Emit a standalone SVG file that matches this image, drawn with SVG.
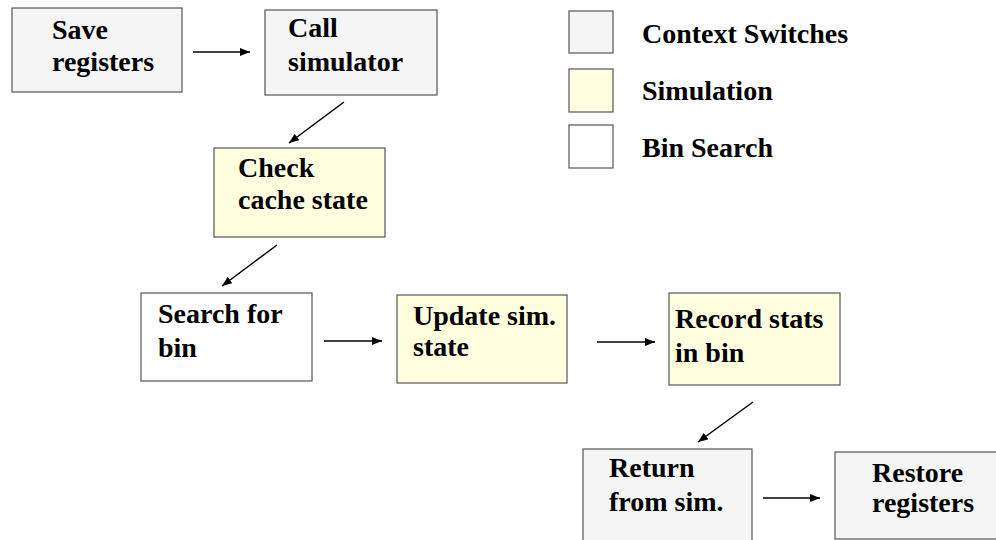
<svg xmlns="http://www.w3.org/2000/svg" width="996" height="540" viewBox="0 0 996 540">
  <style>
    .box { stroke: #555555; stroke-width: 1.2; }
    .ctx { fill: #F5F5F5; }
    .sim { fill: #FFFFE0; }
    .bin { fill: #FFFFFF; }
    text { font-family: "Times New Roman", Times, "Liberation Serif", Tinos, "DejaVu Serif", "Noto Serif", FreeSerif, serif; font-weight: 700; font-size: 28px; fill: #000000; }
    .edge { stroke: #000000; stroke-width: 1.5; fill: none; marker-end: url(#head); }
  </style>
  <defs>
    <marker id="head" viewBox="0 0 10 8" refX="10" refY="4" markerWidth="10" markerHeight="8" markerUnits="userSpaceOnUse" orient="auto">
      <path d="M0,0 L10,4 L0,8 z" fill="#000000"/>
    </marker>
  </defs>
  <rect width="996" height="540" fill="#FFFFFF"/>

  <!-- legend -->
  <g id="legend">
    <rect class="box ctx" x="569" y="11" width="44" height="42"/>
    <text x="642" y="43">Context Switches</text>
    <rect class="box sim" x="569" y="69" width="44" height="43"/>
    <text x="642" y="100">Simulation</text>
    <rect class="box bin" x="569" y="125" width="44" height="43"/>
    <text x="642" y="157">Bin Search</text>
  </g>

  <!-- flow steps -->
  <g id="save-registers">
    <rect class="box ctx" x="12" y="8" width="170" height="84"/>
    <text x="52" y="39">Save</text>
    <text x="52" y="71">registers</text>
  </g>
  <g id="call-simulator">
    <rect class="box ctx" x="265" y="10" width="172" height="85"/>
    <text x="288" y="37">Call</text>
    <text x="288" y="71">simulator</text>
  </g>
  <g id="check-cache-state">
    <rect class="box sim" x="214" y="148" width="171" height="89"/>
    <text x="238" y="177">Check</text>
    <text x="238" y="209">cache state</text>
  </g>
  <g id="search-for-bin">
    <rect class="box bin" x="141" y="293" width="171" height="88"/>
    <text x="158" y="323">Search for</text>
    <text x="158" y="357">bin</text>
  </g>
  <g id="update-sim-state">
    <rect class="box sim" x="397" y="295" width="170" height="88"/>
    <text x="413" y="325">Update sim.</text>
    <text x="413" y="356">state</text>
  </g>
  <g id="record-stats">
    <rect class="box sim" x="669" y="293" width="171" height="92"/>
    <text x="675" y="328">Record stats</text>
    <text x="675" y="362">in bin</text>
  </g>
  <g id="return-from-sim">
    <rect class="box ctx" x="583" y="449" width="169" height="96"/>
    <text x="609" y="477">Return</text>
    <text x="609" y="511">from sim.</text>
  </g>
  <g id="restore-registers">
    <rect class="box ctx" x="835" y="452" width="172" height="87"/>
    <text x="872" y="482">Restore</text>
    <text x="872" y="512">registers</text>
  </g>

  <!-- connectors -->
  <g id="connectors">
    <line class="edge" x1="193" y1="52" x2="250" y2="52"/>
    <line class="edge" x1="344" y1="102" x2="289" y2="143"/>
    <line class="edge" x1="277" y1="245" x2="222" y2="286"/>
    <line class="edge" x1="324" y1="341" x2="382" y2="341"/>
    <line class="edge" x1="597" y1="342" x2="655" y2="342"/>
    <line class="edge" x1="753" y1="402" x2="698" y2="442"/>
    <line class="edge" x1="763" y1="498" x2="820" y2="498"/>
  </g>
</svg>
